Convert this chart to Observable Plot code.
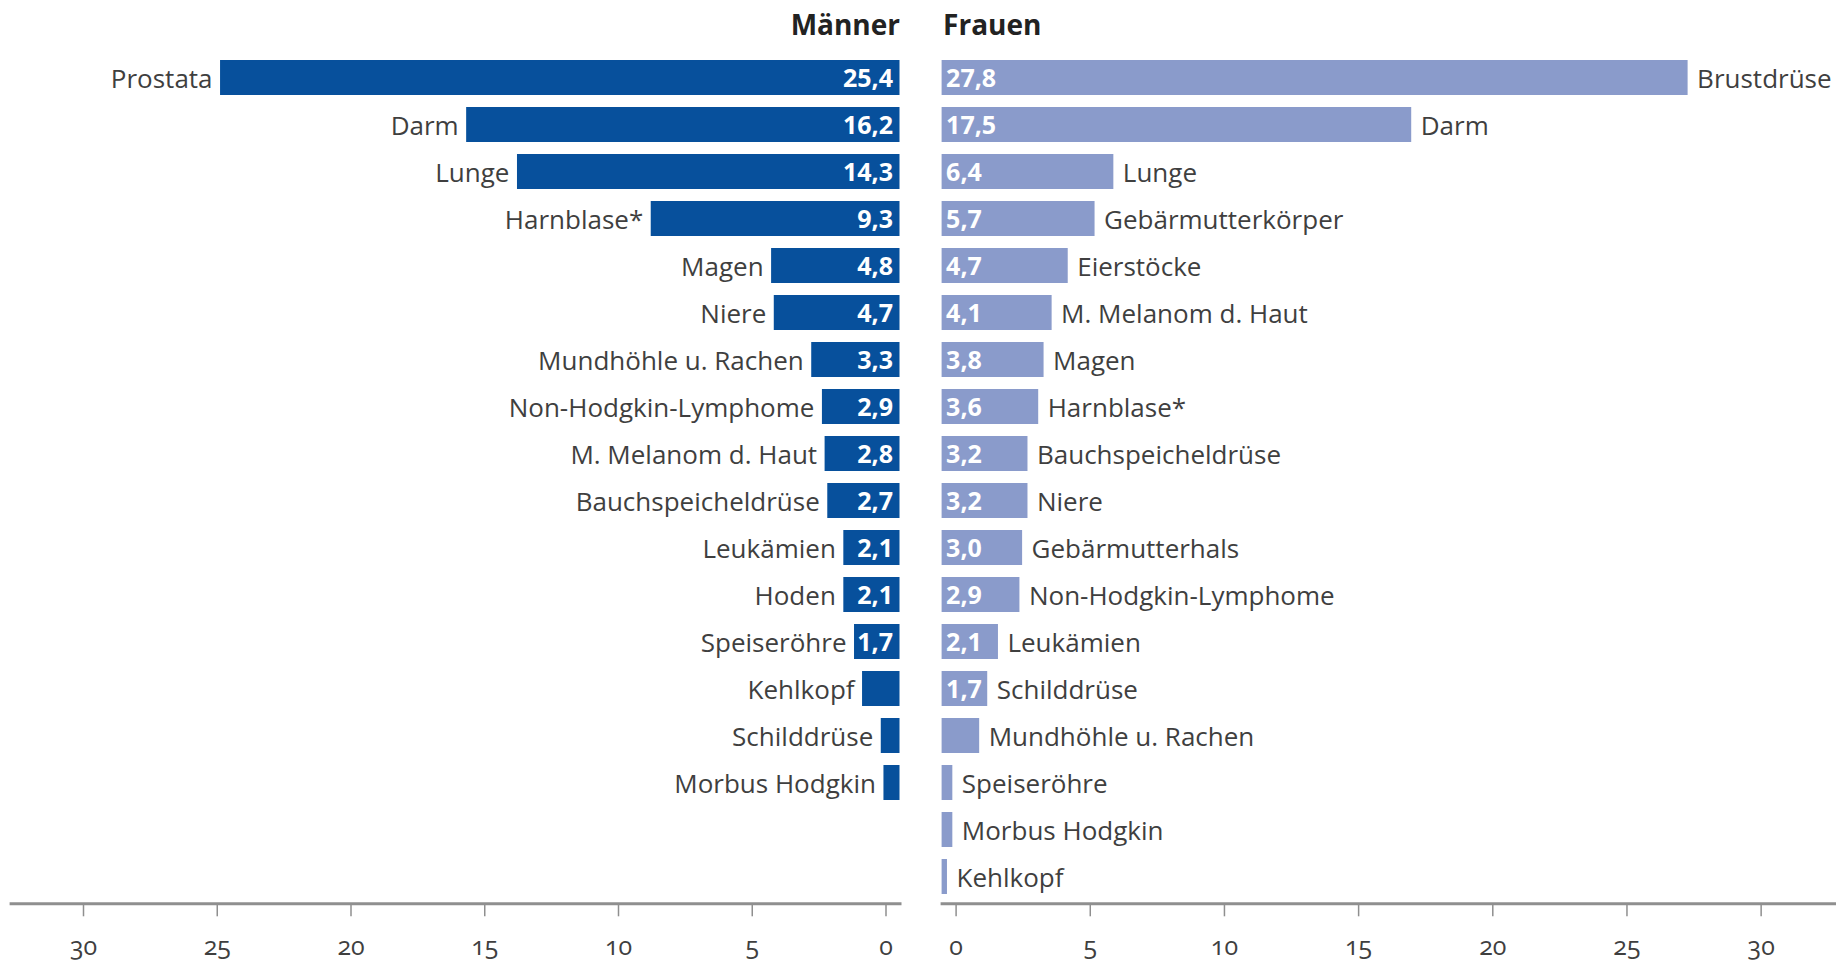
<!DOCTYPE html>
<html>
<head>
<meta charset="utf-8">
<script src="https://cdn.jsdelivr.net/npm/d3@7"></script>
<script src="https://cdn.jsdelivr.net/npm/@observablehq/plot@0.6"></script>
<style>
  html, body { margin: 0; padding: 0; background: #fff; }
  #wrap { display: flex; flex-direction: row; width: 1836px; height: 965px; overflow: hidden; }
  svg { font-family: "Open Sans", Lato, sans-serif; }
  g[aria-label="x-axis tick label"] text { font-variant-numeric: oldstyle-nums; font-feature-settings: "onum" 1; }
</style>
</head>
<body>
<div id="wrap"></div>
<script>
// ---- data ----
const menSites = ["Prostata", "Darm", "Lunge", "Harnblase*", "Magen", "Niere", "Mundhöhle u. Rachen",
  "Non-Hodgkin-Lymphome", "M. Melanom d. Haut", "Bauchspeicheldrüse", "Leukämien", "Hoden",
  "Speiseröhre", "Kehlkopf", "Schilddrüse", "Morbus Hodgkin"];
const menValues = [25.4, 16.2, 14.3, 9.3, 4.8, 4.7, 3.3, 2.9, 2.8, 2.7, 2.1, 2.1, 1.7, 1.4, 0.7, 0.6];

const womenSites = ["Brustdrüse", "Darm", "Lunge", "Gebärmutterkörper", "Eierstöcke", "M. Melanom d. Haut",
  "Magen", "Harnblase*", "Bauchspeicheldrüse", "Niere", "Gebärmutterhals", "Non-Hodgkin-Lymphome",
  "Leukämien", "Schilddrüse", "Mundhöhle u. Rachen", "Speiseröhre", "Morbus Hodgkin", "Kehlkopf"];
const womenValues = [27.8, 17.5, 6.4, 5.7, 4.7, 4.1, 3.8, 3.6, 3.2, 3.2, 3.0, 2.9, 2.1, 1.7, 1.4, 0.4, 0.4, 0.2];

const tickValues = [0, 5, 10, 15, 20, 25, 30];
const panelTitles = ["Männer", "Frauen"];

// ---- build ----
const men = menSites.map((s, i) => ({site: s, value: menValues[i], rank: i + 1}));
const women = womenSites.map((s, i) => ({site: s, value: womenValues[i], rank: i + 1}));
const rows = d3.range(1, 19);
const fmt = v => d3.format(".1f")(v).replace(".", ",");
const labelled = d => d.value >= 1.5;

const H = 965, MT = 50, MB = 61.7;
const darkBlue = "#07509c", lightBlue = "#8a9bcb", axisGrey = "#8f8f8f", textCol = "#3f3f3f";
const catFont = 26, catSpacing = "2.6px", valFont = 25, tickFont = 25;
const yScale = {type: "band", domain: rows, paddingInner: 0.25, paddingOuter: 0.155, axis: null};

const left = Plot.plot({
  width: 920, height: H,
  marginLeft: 10.6, marginRight: 20.5, marginTop: MT, marginBottom: MB,
  x: {domain: [0, 33.23], reverse: true},
  y: yScale,
  style: {fontFamily: "'Open Sans', Lato, sans-serif", background: "#fff"},
  marks: [
    Plot.frame({anchor: "bottom", stroke: axisGrey, strokeWidth: 3}),
    Plot.axisX({ticks: tickValues, tickSize: 13, tickPadding: 20, tickFormat: d => d, stroke: axisGrey, strokeWidth: 1.5, fill: textCol, fontSize: tickFont, letterSpacing: "1px", dx: -14, label: null}),
    Plot.barX(men, {x1: 0, x2: "value", y: "rank", fill: darkBlue}),
    Plot.text(men, {x: "value", y: "rank", text: "site", textAnchor: "end", dx: -8, dy: 2, fill: textCol, fontSize: catFont, letterSpacing: catSpacing}),
    Plot.text(men.filter(labelled), {x: 0, y: "rank", text: d => fmt(d.value), textAnchor: "end", dx: -7, dy: 1, fill: "#fff", fontSize: valFont, fontWeight: 700}),
    Plot.text([panelTitles[0]], {frameAnchor: "top-right", dy: 26 - MT, textAnchor: "end", lineAnchor: "middle", fontSize: 28, fontWeight: 700, letterSpacing: "0.5px", fill: "#222"})
  ]
});

const right = Plot.plot({
  width: 916, height: H,
  marginLeft: 21.6, marginRight: 0, marginTop: MT, marginBottom: MB,
  x: {domain: [0, 33.33]},
  y: yScale,
  style: {fontFamily: "'Open Sans', Lato, sans-serif", background: "#fff"},
  marks: [
    Plot.frame({anchor: "bottom", stroke: axisGrey, strokeWidth: 3}),
    Plot.axisX({ticks: tickValues, tickSize: 13, tickPadding: 20, tickFormat: d => d, stroke: axisGrey, strokeWidth: 1.5, fill: textCol, fontSize: tickFont, letterSpacing: "1px", dx: 14, label: null}),
    Plot.barX(women, {x1: 0, x2: "value", y: "rank", fill: lightBlue}),
    Plot.text(women, {x: "value", y: "rank", text: "site", textAnchor: "start", dx: 9, dy: 2, fill: textCol, fontSize: catFont, letterSpacing: catSpacing}),
    Plot.text(women.filter(labelled), {x: 0, y: "rank", text: d => fmt(d.value), textAnchor: "start", dx: 4, dy: 1, fill: "#fff", fontSize: valFont, fontWeight: 700}),
    Plot.text([panelTitles[1]], {frameAnchor: "top-left", dy: 26 - MT, dx: 1, textAnchor: "start", lineAnchor: "middle", fontSize: 28, fontWeight: 700, letterSpacing: "0.5px", fill: "#222"})
  ]
});

document.getElementById("wrap").append(left, right);
</script>
</body>
</html>
